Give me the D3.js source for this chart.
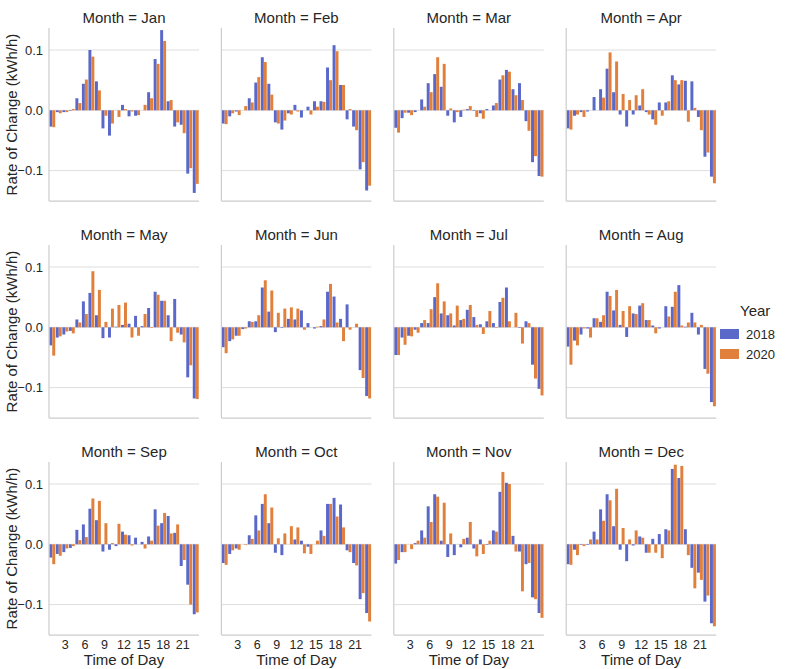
<!DOCTYPE html>
<html><head><meta charset="utf-8">
<script src="https://cdn.jsdelivr.net/npm/d3@7"></script>
<style>body{margin:0;background:#fff;} text{font-family:"Liberation Sans",Arial,sans-serif;fill:#262626;}</style>
</head><body>
<svg id="chart" width="790" height="669"></svg>
<script>
const months = ["Jan","Feb","Mar","Apr","May","Jun","Jul","Aug","Sep","Oct","Nov","Dec"];
const hours = d3.range(1, 24);
const years = ["2018","2020"];
const yTicks = [0.1, 0.0, -0.1];
const xTicks = [3, 6, 9, 12, 15, 18, 21];
const colors = ["#5a69c9", "#e1803c"];

const rate2018 = [
 [-0.027,-0.003,-0.003,-0.001,0.020,0.044,0.100,0.048,-0.030,-0.042,0.000,0.009,-0.010,-0.009,0.000,0.030,0.085,0.133,0.015,-0.027,-0.024,-0.105,-0.137],
 [-0.022,-0.010,-0.002,0.000,0.020,0.046,0.088,0.044,-0.020,-0.032,-0.005,0.009,-0.012,0.006,0.015,0.015,0.071,0.108,0.042,-0.015,-0.027,-0.098,-0.133],
 [-0.029,-0.013,-0.004,-0.003,0.018,0.045,0.060,0.039,-0.009,-0.020,-0.011,0.002,-0.001,-0.005,0.002,0.008,0.051,0.067,0.035,0.045,-0.018,-0.086,-0.109],
 [-0.030,-0.009,-0.003,-0.002,0.022,0.035,0.069,0.030,-0.007,-0.027,-0.007,0.008,-0.003,-0.015,0.013,0.013,0.058,0.043,0.049,0.048,-0.011,-0.077,-0.110],
 [-0.030,-0.017,-0.012,-0.006,0.013,0.043,0.057,0.020,-0.018,-0.017,0.001,0.004,0.006,0.019,0.002,0.032,0.059,0.044,0.020,0.047,-0.012,-0.083,-0.118],
 [-0.033,-0.023,-0.014,-0.003,0.010,0.010,0.066,0.026,-0.008,-0.001,0.014,0.013,0.028,0.007,-0.002,0.002,0.059,0.051,0.014,0.038,0.000,-0.071,-0.114],
 [-0.046,-0.017,-0.014,-0.004,0.007,0.007,0.050,0.023,0.020,0.003,0.012,0.029,0.017,0.005,0.010,0.007,0.042,0.066,0.000,-0.001,0.010,-0.062,-0.102],
 [-0.032,-0.022,-0.012,-0.002,0.015,0.009,0.059,0.028,0.004,-0.016,0.023,0.036,0.012,0.003,-0.002,0.035,0.034,0.070,0.001,0.024,-0.012,-0.069,-0.124],
 [-0.022,-0.016,-0.013,-0.006,0.024,0.033,0.059,0.040,-0.012,-0.009,-0.003,0.021,0.015,0.011,0.004,0.013,0.058,0.035,0.047,0.019,-0.036,-0.067,-0.116],
 [-0.031,-0.016,-0.007,0.000,0.015,0.048,0.067,0.035,-0.014,-0.018,0.000,0.008,0.006,-0.004,0.000,0.023,0.067,0.077,0.066,-0.010,-0.031,-0.091,-0.114],
 [-0.032,-0.013,0.000,0.002,0.023,0.063,0.083,0.006,-0.021,-0.018,-0.005,0.011,-0.007,0.008,-0.001,0.023,0.087,0.102,0.014,-0.012,-0.033,-0.088,-0.114],
 [-0.033,-0.009,-0.001,-0.001,0.021,0.058,0.083,0.030,-0.009,-0.028,-0.002,0.013,-0.014,0.009,0.017,0.025,0.125,0.110,0.025,-0.039,-0.047,-0.095,-0.131]
];
const rate2020 = [
 [-0.028,-0.005,-0.003,0.002,0.012,0.051,0.089,0.033,-0.009,-0.022,-0.011,0.002,-0.002,-0.008,0.009,0.020,0.077,0.115,0.017,-0.020,-0.038,-0.096,-0.122],
 [-0.023,-0.005,-0.008,0.007,0.013,0.055,0.080,0.026,-0.022,-0.017,-0.007,-0.002,0.000,-0.007,0.006,0.014,0.050,0.098,0.042,0.002,-0.033,-0.086,-0.125],
 [-0.037,-0.004,-0.008,0.000,0.006,0.030,0.088,0.077,0.003,-0.003,0.001,0.007,-0.011,-0.014,0.000,0.012,0.058,0.064,0.025,0.017,-0.034,-0.076,-0.110],
 [-0.032,-0.007,-0.011,0.000,0.000,0.021,0.096,0.081,0.027,0.017,0.025,0.035,-0.007,-0.024,-0.009,0.015,0.050,0.050,-0.019,0.004,-0.033,-0.070,-0.121],
 [-0.047,-0.015,-0.007,-0.010,0.008,0.022,0.093,0.062,0.009,0.031,0.037,0.041,-0.017,-0.014,0.022,-0.001,0.054,0.044,-0.023,-0.009,-0.025,-0.063,-0.119],
 [-0.043,-0.020,-0.014,-0.002,0.009,0.020,0.078,0.061,0.024,0.031,0.033,0.031,-0.004,0.000,0.001,0.013,0.072,0.008,-0.023,-0.004,0.006,-0.084,-0.118],
 [-0.046,-0.029,-0.015,-0.009,0.012,0.030,0.073,0.043,0.023,0.036,0.014,0.037,0.004,-0.011,0.027,-0.001,0.049,0.010,0.024,-0.027,0.007,-0.085,-0.113],
 [-0.062,-0.030,-0.002,-0.017,0.015,0.020,0.052,0.062,0.027,0.035,0.022,0.040,0.012,-0.010,0.000,0.018,0.059,0.003,0.008,0.008,0.004,-0.077,-0.131],
 [-0.033,-0.019,-0.007,-0.003,0.007,0.012,0.076,0.072,0.035,0.002,0.034,0.016,-0.002,0.000,-0.007,0.006,0.031,0.052,0.018,0.033,-0.026,-0.100,-0.113],
 [-0.034,-0.010,-0.009,-0.001,0.009,0.023,0.083,0.061,0.010,0.018,0.030,0.028,-0.015,-0.016,0.006,0.014,0.067,0.046,0.028,-0.013,-0.035,-0.081,-0.128],
 [-0.026,-0.013,-0.008,0.006,0.011,0.037,0.079,0.069,0.018,0.000,0.009,0.037,-0.020,-0.016,0.006,0.021,0.120,0.100,-0.012,-0.078,-0.031,-0.091,-0.122],
 [-0.034,-0.018,-0.003,0.008,0.008,0.039,0.073,0.092,0.027,0.008,0.023,0.011,-0.014,-0.014,-0.023,0.023,0.132,0.130,-0.018,-0.073,-0.059,-0.085,-0.136]
];

const svg = d3.select("#chart");
const W = 150, colPitch = 172.4, x0 = 49;
const rowZero = [110.3, 327.3, 544.3];
const pxPerUnit = 603;
const yDomain = [-0.1505, 0.1365];
const grid = "#dedede", spine = "#cccccc";
const FONT = '"Liberation Sans",Arial,sans-serif';

months.forEach((m, i) => {
  const r = Math.floor(i / 4), c = i % 4;
  const left = x0 + c * colPitch;
  const z = rowZero[r];
  const y = d3.scaleLinear().domain(yDomain).range([z - yDomain[0]*pxPerUnit, z - yDomain[1]*pxPerUnit]);
  const x = d3.scaleBand().domain(hours).range([left, left + W]).paddingInner(0).paddingOuter(0);
  const xs = d3.scaleBand().domain(years).range([0, x.bandwidth()]).paddingInner(0).paddingOuter(0.1);
  const g = svg.append("g");
  const top = y(yDomain[1]), bot = y(yDomain[0]);

  g.selectAll("line.grid").data(yTicks).join("line")
    .attr("x1", left).attr("x2", left + W)
    .attr("y1", d => y(d)).attr("y2", d => y(d))
    .attr("stroke", grid).attr("stroke-width", 1);

  const series = [rate2018[i], rate2020[i]];
  years.forEach((yr, s) => {
    g.selectAll("rect.s" + s).data(hours).join("rect")
      .attr("x", h => x(h) + xs(yr))
      .attr("width", xs.bandwidth())
      .attr("y", (h, k) => y(Math.max(0, series[s][k])))
      .attr("height", (h, k) => Math.abs(y(series[s][k]) - y(0)))
      .attr("fill", colors[s]);
  });

  g.append("line").attr("x1", left).attr("x2", left).attr("y1", top).attr("y2", bot)
    .attr("stroke", spine).attr("stroke-width", 1.2);
  g.append("line").attr("x1", left).attr("x2", left + W).attr("y1", bot).attr("y2", bot)
    .attr("stroke", spine).attr("stroke-width", 1.2);

  g.append("text").attr("x", left + W/2).attr("y", top - 5)
    .attr("text-anchor", "middle").attr("font-size", 15).text("Month = " + m);

  if (c === 0) {
    const ay = d3.axisLeft(y).tickValues(yTicks).tickSize(0).tickPadding(6).tickFormat(d3.format(".1f"));
    const ag = g.append("g").attr("transform", `translate(${left},0)`).call(ay);
    ag.select(".domain").remove();
    ag.selectAll("text").attr("font-size", 13).style("font-family", FONT).attr("fill", "#262626");
    g.append("text").attr("transform", `translate(17,${(top+bot)/2}) rotate(-90)`)
      .attr("text-anchor", "middle").attr("font-size", 15).text("Rate of Change (kWh/h)");
  }
  if (r === 2) {
    const ax = d3.axisBottom(x).tickValues(xTicks).tickSize(0).tickPadding(5);
    const ag = g.append("g").attr("transform", `translate(0,${bot})`).call(ax);
    ag.select(".domain").remove();
    ag.selectAll("text").attr("font-size", 12.5).style("font-family", FONT).attr("fill", "#262626");
    g.append("text").attr("x", left + W/2).attr("y", 665)
      .attr("text-anchor", "middle").attr("font-size", 15).text("Time of Day");
  }
});

const lg = svg.append("g");
lg.append("text").attr("x", 740).attr("y", 316).attr("font-size", 15).text("Year");
years.forEach((yr, s) => {
  lg.append("rect").attr("x", 720).attr("y", 329 + s*20).attr("width", 19).attr("height", 10).attr("fill", colors[s]);
  lg.append("text").attr("x", 746).attr("y", 339 + s*20).attr("font-size", 13).text(yr);
});
</script>
</body></html>
